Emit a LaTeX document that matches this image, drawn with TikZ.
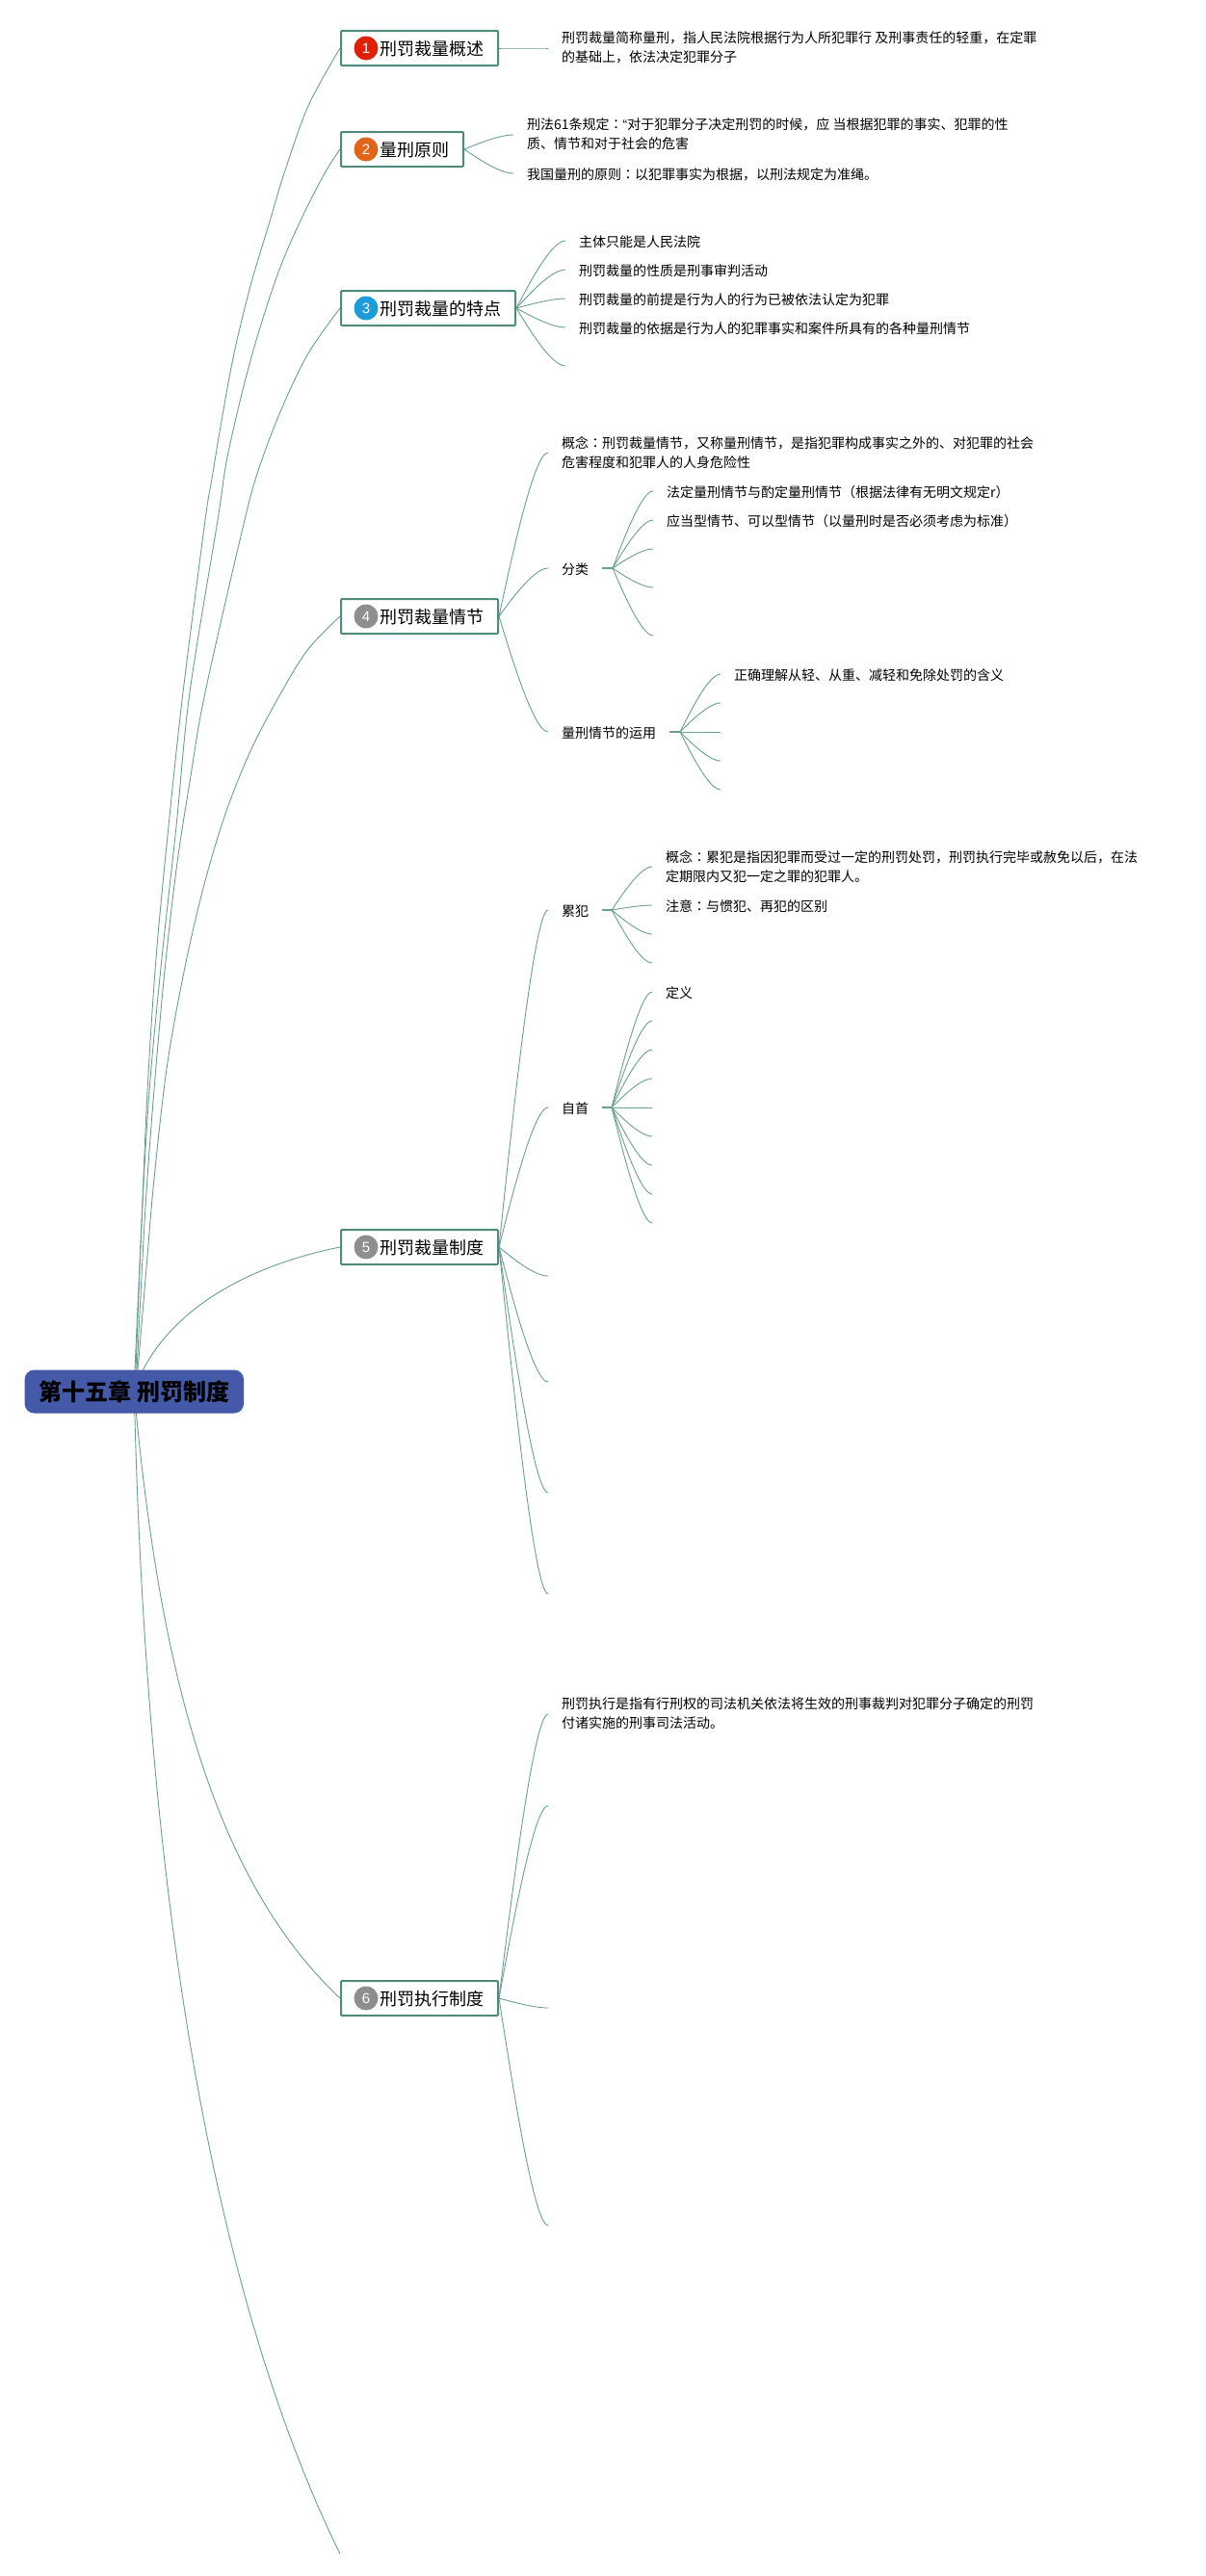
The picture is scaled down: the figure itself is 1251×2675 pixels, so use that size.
\documentclass[tikz,border=0pt]{standalone}
\usepackage{fontspec}
\setmainfont{Noto Sans CJK SC}
\newfontfamily\digitfont{Liberation Sans}
\newfontfamily\tcfont{Noto Sans CJK TC}
\newcommand\cln{{\tcfont ：}}
\usetikzlibrary{calc,backgrounds}
\definecolor{linkc}{HTML}{6A9F91}
\definecolor{boxc}{HTML}{4F8A7C}
\definecolor{rootc}{HTML}{4459A7}
\definecolor{badgeA}{HTML}{DE2008}
\definecolor{badgeB}{HTML}{E0651A}
\definecolor{badgeC}{HTML}{1C9CD8}
\definecolor{badgeD}{HTML}{8E8E8E}
\tikzset{
  conn/.style={draw=linkc,line width=0.9pt},
  stubline/.style={draw=linkc,line width=2pt},
  rootnode/.style={fill=rootc,rounded corners=10pt,minimum width=227.5pt,minimum height=45pt,inner sep=0pt,font=\fontsize{24}{28}\selectfont\bfseries,text=black},
  topicbox/.style={draw=boxc,line width=2pt,fill=white,rounded corners=1pt,minimum height=36pt,inner sep=0pt,anchor=west},
  badge/.style={circle,minimum size=25pt,inner sep=0pt,text=white,font=\digitfont\fontsize{15}{15}\selectfont},
  topictext/.style={anchor=west,inner sep=0pt,font=\fontsize{18}{20}\selectfont,text=black},
  leaf/.style={anchor=west,inner xsep=14pt,inner ysep=0pt,align=left,font=\fontsize{14}{20}\selectfont,text=black,execute at begin node={\rule[-2pt]{0pt}{17pt}}},
  leaftwo/.style={leaf,execute at begin node={\rule[-2pt]{0pt}{24pt}}},
}
\newcommand\lnk[2]{\draw[conn] let \p1=(#1),\p2=(#2),\n1={\x2-\x1},\n2={\y2-\y1} in (\p1) .. controls (\x1+0.22*\n1,\y1+0.3*\n2) and (\x1+0.7*\n1,\y2) .. (\p2);}
\begin{document}
\begin{tikzpicture}[x=1pt,y=-1pt]
\useasboundingbox (0,0) rectangle (1251,2675);
% root
\node[rootnode] (root) at (139.3,1445) {第十五章 刑罚制度};
% topics
\node[topicbox,minimum width=163pt] (b1) at (353,50) {};
\node[badge,fill=badgeA] (n1) at (380,50) {1};
\node[topictext] (t1) at (394.5,50.8) {刑罚裁量概述};
\node[topicbox,minimum width=127pt] (b2) at (353,155) {};
\node[badge,fill=badgeB] (n2) at (380,155) {2};
\node[topictext] (t2) at (394.5,155.8) {量刑原则};
\node[topicbox,minimum width=181pt] (b3) at (353,320) {};
\node[badge,fill=badgeC] (n3) at (380,320) {3};
\node[topictext] (t3) at (394.5,320.8) {刑罚裁量的特点};
\node[topicbox,minimum width=163pt] (b4) at (353,640) {};
\node[badge,fill=badgeD] (n4) at (380,640) {4};
\node[topictext] (t4) at (394.5,640.8) {刑罚裁量情节};
\node[topicbox,minimum width=163pt] (b5) at (353,1295) {};
\node[badge,fill=badgeD] (n5) at (380,1295) {5};
\node[topictext] (t5) at (394.5,1295.8) {刑罚裁量制度};
\node[topicbox,minimum width=163pt] (b6) at (353,2075) {};
\node[badge,fill=badgeD] (n6) at (380,2075) {6};
\node[topictext] (t6) at (394.5,2075.8) {刑罚执行制度};
% leaves
\node[leaftwo] (l11) at (569,50) {刑罚裁量简称量刑，指人民法院根据行为人所犯罪行 及刑事责任的轻重，在定罪\\的基础上，依法决定犯罪分子};
\node[leaftwo] (l21) at (533,140) {刑法61条规定\cln{\digitfont “}对于犯罪分子决定刑罚的时候，应 当根据犯罪的事实、犯罪的性\\质、情节和对于社会的危害};
\node[leaf] (l22) at (533,180) {我国量刑的原则\cln 以犯罪事实为根据，以刑法规定为准绳。};
\node[leaf] (l31) at (587,250) {主体只能是人民法院};
\node[leaf] (l32) at (587,280) {刑罚裁量的性质是刑事审判活动};
\node[leaf] (l33) at (587,310) {刑罚裁量的前提是行为人的行为已被依法认定为犯罪};
\node[leaf] (l34) at (587,340) {刑罚裁量的依据是行为人的犯罪事实和案件所具有的各种量刑情节};
\coordinate (e35) at (587,380);
\node[leaftwo] (l41) at (569,470) {概念\cln 刑罚裁量情节，又称量刑情节，是指犯罪构成事实之外的、对犯罪的社会\\危害程度和犯罪人的人身危险性};
\node[leaf] (l42) at (569,590) {分类};
\node[leaf] (l43) at (569,760) {量刑情节的运用};
\coordinate (s42) at (636,590);
\coordinate (s43) at (706,760);
\node[leaf] (l421) at (678,510) {法定量刑情节与酌定量刑情节（根据法律有无明文规定r）};
\node[leaf] (l422) at (678,540) {应当型情节、可以型情节（以量刑时是否必须考虑为标准）};
\coordinate (e423) at (678,570);
\coordinate (e424) at (678,610);
\coordinate (e425) at (678,660);
\node[leaf] (l431) at (748,700) {正确理解从轻、从重、减轻和免除处罚的含义};
\coordinate (e432) at (748,730);
\coordinate (e433) at (748,760);
\coordinate (e434) at (748,790);
\coordinate (e435) at (748,820);
\node[leaf] (l51) at (569,945) {累犯};
\node[leaf] (l52) at (569,1150) {自首};
\coordinate (s51) at (635,945);
\coordinate (s52) at (635,1150);
\coordinate (e53) at (569,1325);
\coordinate (e54) at (569,1435);
\coordinate (e55) at (569,1550);
\coordinate (e56) at (569,1655);
\node[leaftwo] (l511) at (677,900) {概念\cln 累犯是指因犯罪而受过一定的刑罚处罚，刑罚执行完毕或赦免以后，在法\\定期限内又犯一定之罪的犯罪人。};
\node[leaf] (l512) at (677,940) {注意\cln 与惯犯、再犯的区别};
\coordinate (e513) at (677,970);
\coordinate (e514) at (677,1000);
\node[leaf] (l521) at (677,1030) {定义};
\foreach \i/\y in {2/1060,3/1090,4/1120,5/1150,6/1180,7/1210,8/1240,9/1270} {\coordinate (e52\i) at (677,\y);}
\node[leaftwo] (l61) at (569,1780) {刑罚执行是指有行刑权的司法机关依法将生效的刑事裁判对犯罪分子确定的刑罚\\付诸实施的刑事司法活动。};
\coordinate (e62) at (569,1875);
\coordinate (e63) at (569,2085);
\coordinate (e64) at (569,2311);
\coordinate (e7) at (353,2652);
\begin{scope}[on background layer]
\fill[white] (0,0) rectangle (1251,2675);
% root to topics
\draw[conn] plot[smooth,tension=0.55] coordinates {(root.center) (140,1422) (147,1270) (153,1133) (162,995) (175,858) (190,719) (213,540) (220,497) (230,437) (243,367) (260,297) (280,230) (295,180) (320,110) (b1.west)};
\draw[conn] plot[smooth,tension=0.55] coordinates {(root.center) (141,1422) (147,1270) (155,1133) (168,995) (183,858) (197,719) (226,540) (235,480) (250,413) (267,350) (290,280) (313,227) (337,180) (b2.west)};
\draw[conn] plot[smooth,tension=0.55] coordinates {(root.center) (142,1422) (150,1270) (158,1156) (170,1018) (183,903) (197,812) (213,719) (254,540) (270,483) (293,423) (320,367) (b3.west)};
\draw[conn] plot[smooth,tension=0.55] coordinates {(root.center) (143,1422) (152,1316) (160,1224) (173,1110) (190,1014) (210,926) (233,848) (260,780) (292,719) (320,674) (b4.west)};
\draw[conn] (root.center) .. controls (160,1380) and (230,1320) .. (b5.west);
\draw[conn] (root.center) .. controls (165,1730) and (220,1950) .. (b6.west);
\draw[conn] (root.center) .. controls (150,1900) and (205,2350) .. (e7);
% topic 1-3
\lnk{b1.east}{l11.west}
\lnk{b2.east}{l21.west}
\lnk{b2.east}{l22.west}
\lnk{b3.east}{l31.west}
\lnk{b3.east}{l32.west}
\lnk{b3.east}{l33.west}
\lnk{b3.east}{l34.west}
\lnk{b3.east}{e35}
% topic 4
\lnk{b4.east}{l41.west}
\lnk{b4.east}{l42.west}
\lnk{b4.east}{l43.west}
\draw[stubline] (l42.east) -- (s42);
\draw[stubline] (l43.east) -- (s43);
\lnk{s42}{l421.west}
\lnk{s42}{l422.west}
\lnk{s42}{e423}
\lnk{s42}{e424}
\lnk{s42}{e425}
\lnk{s43}{l431.west}
\lnk{s43}{e432}
\lnk{s43}{e433}
\lnk{s43}{e434}
\lnk{s43}{e435}
% topic 5
\lnk{b5.east}{l51.west}
\lnk{b5.east}{l52.west}
\lnk{b5.east}{e53}
\lnk{b5.east}{e54}
\lnk{b5.east}{e55}
\lnk{b5.east}{e56}
\draw[stubline] (l51.east) -- (s51);
\draw[stubline] (l52.east) -- (s52);
\lnk{s51}{l511.west}
\lnk{s51}{l512.west}
\lnk{s51}{e513}
\lnk{s51}{e514}
\lnk{s52}{l521.west}
\foreach \i in {2,...,9} {\lnk{s52}{e52\i}}
% topic 6
\lnk{b6.east}{l61.west}
\lnk{b6.east}{e62}
\lnk{b6.east}{e63}
\lnk{b6.east}{e64}
\end{scope}
\end{tikzpicture}
\end{document}
